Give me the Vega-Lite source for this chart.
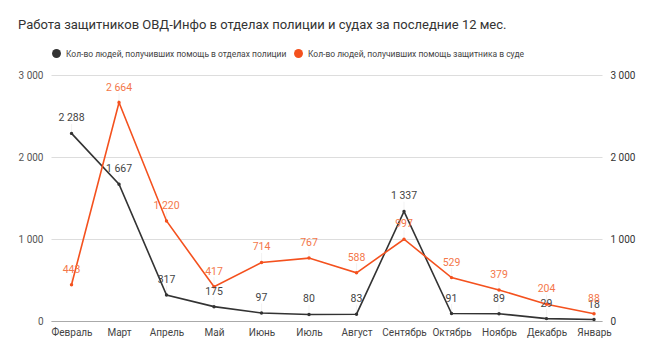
{
  "$schema": "https://vega.github.io/schema/vega-lite/v6.json",
  "width": 650,
  "height": 354,
  "autosize": {"type": "fit", "contains": "padding"},
  "padding": {"left": 18, "right": 15, "top": 19, "bottom": 17},
  "config": {
    "locale": {"number": {"decimal": ",", "thousands": "\u00a0", "grouping": [3], "currency": ["", ""]}},
    "font": "Roboto",
    "view": {"stroke": null}
  },
  "title": {
    "text": "Работа защитников ОВД-Инфо в отделах полиции и судах за последние 12 мес.",
    "anchor": "start",
    "frame": "bounds",
    "fontSize": 13,
    "fontWeight": "normal",
    "color": "#333333",
    "offset": 38
  },
  "data": {
    "values": [
      {"month": "Февраль", "series": "Кол-во людей, получивших помощь в отделах полиции", "value": 2288},
      {"month": "Март", "series": "Кол-во людей, получивших помощь в отделах полиции", "value": 1667},
      {"month": "Апрель", "series": "Кол-во людей, получивших помощь в отделах полиции", "value": 317},
      {"month": "Май", "series": "Кол-во людей, получивших помощь в отделах полиции", "value": 175},
      {"month": "Июнь", "series": "Кол-во людей, получивших помощь в отделах полиции", "value": 97},
      {"month": "Июль", "series": "Кол-во людей, получивших помощь в отделах полиции", "value": 80},
      {"month": "Август", "series": "Кол-во людей, получивших помощь в отделах полиции", "value": 83},
      {"month": "Сентябрь", "series": "Кол-во людей, получивших помощь в отделах полиции", "value": 1337},
      {"month": "Октябрь", "series": "Кол-во людей, получивших помощь в отделах полиции", "value": 91},
      {"month": "Ноябрь", "series": "Кол-во людей, получивших помощь в отделах полиции", "value": 89},
      {"month": "Декабрь", "series": "Кол-во людей, получивших помощь в отделах полиции", "value": 29},
      {"month": "Январь", "series": "Кол-во людей, получивших помощь в отделах полиции", "value": 18},
      {"month": "Февраль", "series": "Кол-во людей, получивших помощь защитника в суде", "value": 443},
      {"month": "Март", "series": "Кол-во людей, получивших помощь защитника в суде", "value": 2664},
      {"month": "Апрель", "series": "Кол-во людей, получивших помощь защитника в суде", "value": 1220},
      {"month": "Май", "series": "Кол-во людей, получивших помощь защитника в суде", "value": 417},
      {"month": "Июнь", "series": "Кол-во людей, получивших помощь защитника в суде", "value": 714},
      {"month": "Июль", "series": "Кол-во людей, получивших помощь защитника в суде", "value": 767},
      {"month": "Август", "series": "Кол-во людей, получивших помощь защитника в суде", "value": 588},
      {"month": "Сентябрь", "series": "Кол-во людей, получивших помощь защитника в суде", "value": 997},
      {"month": "Октябрь", "series": "Кол-во людей, получивших помощь защитника в суде", "value": 529},
      {"month": "Ноябрь", "series": "Кол-во людей, получивших помощь защитника в суде", "value": 379},
      {"month": "Декабрь", "series": "Кол-во людей, получивших помощь защитника в суде", "value": 204},
      {"month": "Январь", "series": "Кол-во людей, получивших помощь защитника в суде", "value": 88}
    ]
  },
  "encoding": {
    "x": {
      "field": "month",
      "type": "ordinal",
      "sort": ["Февраль", "Март", "Апрель", "Май", "Июнь", "Июль", "Август", "Сентябрь", "Октябрь", "Ноябрь", "Декабрь", "Январь"],
      "scale": {"type": "point", "padding": 0.3, "align": 0.72},
      "axis": {
        "title": null,
        "labelAngle": 0,
        "ticks": false,
        "domainColor": "#aaaaaa",
        "labelFontSize": 10,
        "labelColor": "#444444",
        "labelPadding": 6
      }
    }
  },
  "layer": [
    {
      "encoding": {
        "y": {
          "field": "value",
          "type": "quantitative",
          "scale": {"domain": [0, 3000]},
          "axis": {
            "title": null,
            "values": [0, 1000, 2000, 3000],
            "format": ",d",
            "grid": true,
            "gridColor": "#dddddd",
            "domain": false,
            "ticks": false,
            "labelFontSize": 10,
            "labelColor": "#555555",
            "labelPadding": 8
          }
        }
      },
      "layer": [
        {
          "mark": {"type": "tick", "orient": "vertical", "size": 9, "yOffset": -5, "color": "#eeeeee", "thickness": 1},
          "encoding": {"detail": {"field": "series"}}
        },
        {
          "mark": {"type": "line", "strokeWidth": 1.6},
          "encoding": {
            "stroke": {
              "field": "series",
              "type": "nominal",
              "sort": ["Кол-во людей, получивших помощь в отделах полиции", "Кол-во людей, получивших помощь защитника в суде"],
              "scale": {"range": ["#333333", "#f4511e"]},
              "legend": null
            }
          }
        },
        {
          "mark": {"type": "point", "filled": true, "size": 12, "opacity": 1},
          "encoding": {
            "color": {
              "field": "series",
              "type": "nominal",
              "sort": ["Кол-во людей, получивших помощь в отделах полиции", "Кол-во людей, получивших помощь защитника в суде"],
              "scale": {"range": ["#333333", "#f4511e"]},
              "legend": {
                "title": null,
                "orient": "none",
                "legendX": 0,
                "legendY": -27,
                "direction": "horizontal",
                "symbolType": "circle",
                "symbolSize": 80,
                "labelFontSize": 8.5,
                "labelLimit": 400,
                "labelColor": "#444444",
                "columnPadding": 6
              }
            }
          }
        },
        {
          "mark": {"type": "text", "dy": -15, "fontSize": 10.5},
          "encoding": {
            "text": {"field": "value", "type": "quantitative", "format": ",d"},
            "fill": {
              "field": "series",
              "type": "nominal",
              "sort": ["Кол-во людей, получивших помощь в отделах полиции", "Кол-во людей, получивших помощь защитника в суде"],
              "scale": {"range": ["#444444", "#f4774a"]},
              "legend": null
            }
          }
        }
      ]
    },
    {
      "mark": {"type": "point", "opacity": 0},
      "encoding": {
        "y": {
          "field": "value",
          "type": "quantitative",
          "scale": {"domain": [0, 3000]},
          "axis": {
            "orient": "right",
            "title": null,
            "values": [0, 1000, 2000, 3000],
            "format": ",d",
            "grid": false,
            "domain": false,
            "ticks": false,
            "labelFontSize": 10,
            "labelColor": "#333333",
            "labelPadding": 8
          }
        }
      }
    }
  ],
  "resolve": {"scale": {"y": "independent"}}
}
